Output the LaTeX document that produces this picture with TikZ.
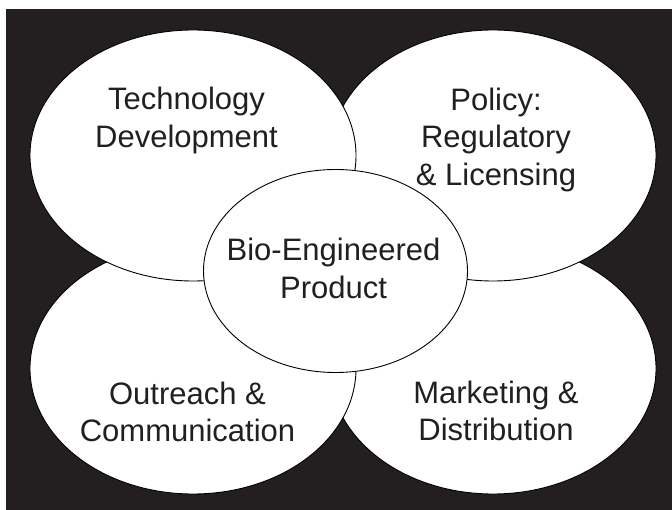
\documentclass[tikz,border=0pt]{standalone}
\usepackage{fontspec}
\setmainfont{Liberation Sans}
\usetikzlibrary{shapes.geometric}
\definecolor{ink}{RGB}{35,31,32}
\begin{document}
\begin{tikzpicture}[x=1pt,y=-1pt,
  blob/.style={ellipse, draw=black, fill=white, line width=0.9pt, inner sep=0pt,
    minimum width=326pt, minimum height=251pt},
  hub/.style={ellipse, draw=black, fill=white, line width=0.9pt, inner sep=0pt,
    minimum width=264pt, minimum height=203pt},
  lbl/.style={align=center, text=ink, inner sep=0pt,
    font=\fontsize{31}{37.5}\selectfont}]
\useasboundingbox (0,0) rectangle (672,510);
\fill[white] (0,0) rectangle (672,510);
\fill[ink] (5.6,9.5) rectangle (672,510);
% ellipses, back to front
\node[blob] (br) at (493,368.5) {};
\node[blob] (tr) at (493,155.5) {};
\node[blob] (bl) at (193,368.5) {};
\node[blob] (tl) at (193,155.5) {};
\node[hub] (hub) at (335.5,271) {};
% labels
\node[lbl] (tltext) at (186.5,120.5) {Technology\\Development};
\node[lbl] (trtext) at (496,139.6) {Policy:\\Regulatory\\\& Licensing};
\node[lbl] (hubtext) at (333.5,268.4) {Bio-Engineered\\Product};
\node[lbl] (bltext) at (187.5,412) {Outreach \&\\Communication};
\node[lbl] (brtext) at (496,411) {Marketing \&\\Distribution};
\end{tikzpicture}
\end{document}
